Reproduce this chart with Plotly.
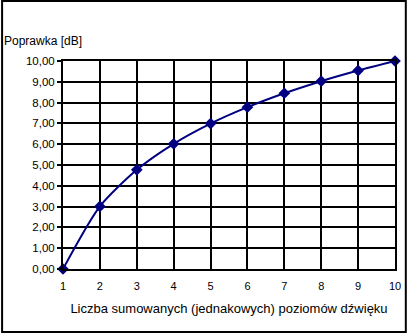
import plotly.graph_objects as go

liczba = [1, 2, 3, 4, 5, 6, 7, 8, 9, 10]
poprawka = [0.00, 3.01, 4.77, 6.02, 6.99, 7.78, 8.45, 9.03, 9.54, 10.00]
y_ticks = [0, 1, 2, 3, 4, 5, 6, 7, 8, 9, 10]

W, H = 413, 333
L, R, T, B = 63, 12, 61, 64
pw, ph = W - L - R, H - T - B

fig = go.Figure(go.Scatter(
    x=liczba, y=poprawka, mode="lines+markers", cliponaxis=False,
    line=dict(color="#000080", width=2, shape="spline", smoothing=0.7),
    marker=dict(symbol="diamond", size=9, color="#000080"),
))

font = dict(family="Liberation Sans, Arial, sans-serif", size=11, color="black")

fig.update_layout(
    width=W, height=H, margin=dict(l=L, r=R, t=T, b=B),
    paper_bgcolor="white", plot_bgcolor="white",
    separators=", ", showlegend=False, font=font,
    xaxis=dict(range=[1, 10], tickmode="array", tickvals=liczba,
               ticktext=[str(v) for v in liczba],
               showgrid=True, gridcolor="black", gridwidth=2,
               showline=True, linecolor="black", linewidth=2, mirror=True,
               zeroline=False, ticks="", ticklabelstandoff=6,
               title=dict(text="Liczba sumowanych (jednakowych) poziomów dźwięku",
                          font=dict(size=13), standoff=13)),
    yaxis=dict(range=[0, 10], tickmode="array", tickvals=y_ticks,
               tickformat=".2f",
               showgrid=True, gridcolor="black", gridwidth=2,
               showline=True, linecolor="black", linewidth=2, mirror=True,
               zeroline=False, ticks="outside", ticklen=4, tickwidth=2,
               tickcolor="black", tickfont=dict(size=11.5)),
    annotations=[dict(text="Poprawka [dB]", xref="paper", yref="paper",
                      x=(1 - L) / pw, y=(H - B - 41) / ph,
                      xanchor="left", yanchor="middle", showarrow=False,
                      font=dict(size=12))],
    shapes=[dict(type="rect", xref="paper", yref="paper",
                 x0=(1 - L) / pw, x1=(W - 1 - L) / pw,
                 y0=-(B - 1) / ph, y1=1 + (T - 1) / ph,
                 line=dict(color="black", width=2), layer="below")],
)

fig.write_html("out.html")
